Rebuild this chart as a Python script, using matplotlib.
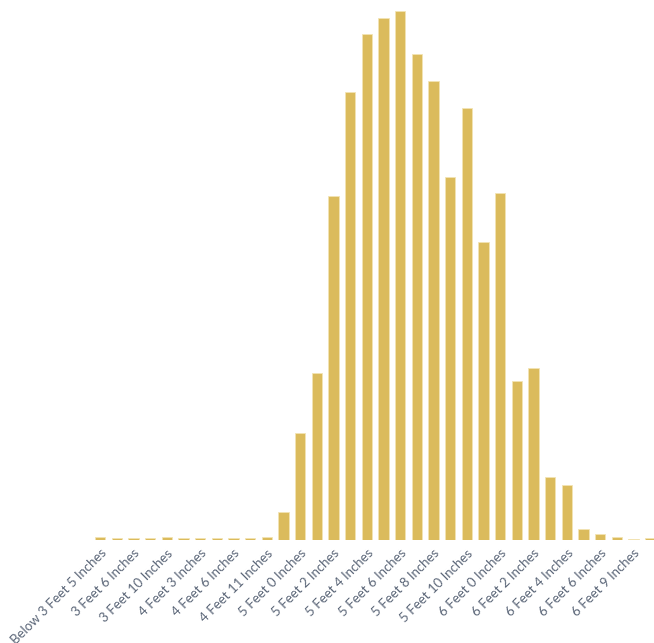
import matplotlib

matplotlib.use("Agg")
import matplotlib.pyplot as plt
import numpy as np

# height categories (every other one is labelled on the axis)
categories = [
    "Below 3 Feet 5 Inches", "3 Feet 5 Inches", "3 Feet 6 Inches", "3 Feet 8 Inches",
    "3 Feet 10 Inches", "4 Feet 0 Inches", "4 Feet 3 Inches", "4 Feet 5 Inches",
    "4 Feet 6 Inches", "4 Feet 9 Inches", "4 Feet 11 Inches", "4 Feet 11.5 Inches",
    "5 Feet 0 Inches", "5 Feet 1 Inches", "5 Feet 2 Inches", "5 Feet 3 Inches",
    "5 Feet 4 Inches", "5 Feet 5 Inches", "5 Feet 6 Inches", "5 Feet 7 Inches",
    "5 Feet 8 Inches", "5 Feet 9 Inches", "5 Feet 10 Inches", "5 Feet 11 Inches",
    "6 Feet 0 Inches", "6 Feet 1 Inches", "6 Feet 2 Inches", "6 Feet 3 Inches",
    "6 Feet 4 Inches", "6 Feet 5 Inches", "6 Feet 6 Inches", "6 Feet 8 Inches",
    "6 Feet 9 Inches", "Above 6 Feet 9 Inches",
]
counts = [
    3.3, 1.7, 1.7, 1.7, 3.3, 1.7, 1.7, 1.7, 2.3, 1.7, 3.3, 27.7,
    107.3, 166.7, 344, 448.3, 506, 522.3, 529, 486.3, 459, 363.3,
    431.7, 298, 347.3, 159, 172.3, 62.7, 55, 11.3, 6, 3.3, 1.0, 1.7,
]

W, H = 654, 643
fig = plt.figure(figsize=(W / 100, H / 100), dpi=100)
ax = fig.add_axes([91.7 / W, (H - 540) / H, (W - 91.7) / W, 540 / H])

x = np.arange(len(categories))
ax.bar(x, counts, width=0.62, color="#dbbb5c", edgecolor="#f3e4b4", linewidth=0.6)

ax.set_xlim(-0.5, 33.24)
ax.set_ylim(0, 540)
ax.set_xticks(x[::2])
ax.set_xticklabels(categories[::2], rotation=45, ha="right", rotation_mode="anchor",
                   fontsize=9.5, color="#5b6678", family="Lato")
ax.tick_params(axis="x", length=0, pad=5)
ax.set_yticks([])
for s in ax.spines.values():
    s.set_visible(False)

fig.savefig("out.png", dpi=100)
